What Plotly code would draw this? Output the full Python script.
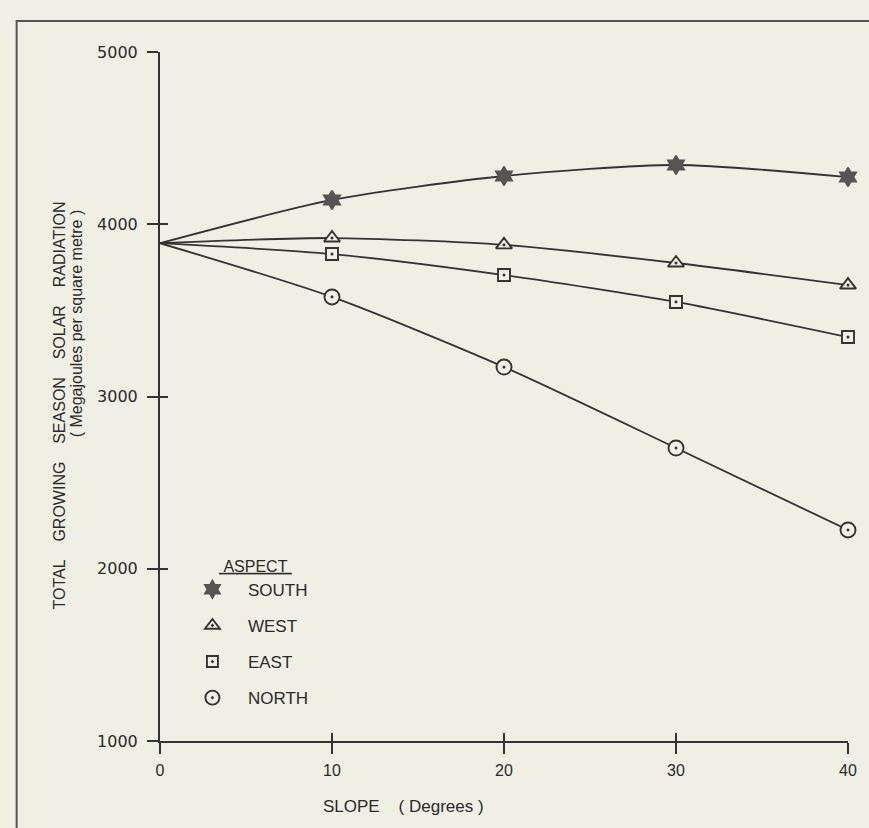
import plotly.graph_objects as go

slope = [0, 10, 20, 30, 40]
south = [3890, 4141, 4280, 4344, 4274]
west = [3890, 3920, 3880, 3775, 3647]
east = [3890, 3827, 3705, 3549, 3345]
north = [3890, 3578, 3171, 2701, 2225]

series = [
    ("SOUTH", south, "hexagram", "#555555"),
    ("WEST", west, "triangle-up-dot", None),
    ("EAST", east, "square-dot", None),
    ("NORTH", north, "circle-dot", None),
]
sizes = {"SOUTH": 14, "WEST": 14, "EAST": 12, "NORTH": 15}

BG = "#f0efe4"
INK = "#333333"
TXT = "#2a2a2a"
NB = "\u00a0"

fig = go.Figure()
for i, (name, vals, sym, fillc) in enumerate(series):
    mcol = fillc if fillc else BG
    mline = dict(color=INK if not fillc else fillc, width=1.9)
    fig.add_trace(go.Scatter(
        x=slope, y=vals, mode="lines", name=name, showlegend=False,
        line=dict(color=INK, width=1.8, shape="spline", smoothing=0.7),
        cliponaxis=False,
    ))
    fig.add_trace(go.Scatter(
        x=slope[1:], y=vals[1:], mode="markers", name=name, showlegend=False,
        marker=dict(symbol=sym, size=sizes[name], color=mcol, line=mline),
        cliponaxis=False,
    ))
    fig.add_trace(go.Scatter(
        x=[None], y=[None], mode="markers", name=name, legendgroup=name,
        marker=dict(symbol=sym, size=sizes[name] - 1, color=mcol, line=mline),
    ))

axis_common = dict(showgrid=False, zeroline=False, showline=True,
                   linecolor=INK, linewidth=2, tickcolor=INK, tickwidth=2)

fig.update_layout(
    width=869, height=828,
    margin=dict(l=160, r=18, t=52, b=87),
    paper_bgcolor=BG, plot_bgcolor=BG,
    font=dict(family="Liberation Sans, Arial, sans-serif", color=TXT),
    xaxis=dict(range=[0, 40], tickvals=[0, 10, 20, 30, 40],
               ticks="outside", ticklen=11, ticklabelstandoff=3,
               tickfont=dict(size=16, family="Liberation Sans, Arial", color=TXT),
               **axis_common),
    yaxis=dict(range=[1000, 5000], tickvals=[1000, 2000, 3000, 4000, 5000],
               ticks="outside", ticklen=11, ticklabelstandoff=6,
               tickfont=dict(size=16, family="DejaVu Sans", color=TXT),
               **axis_common),
    xaxis2=dict(range=[0, 40], tickvals=[0, 10, 20, 30, 40], overlaying="x",
                anchor="y", side="bottom", ticks="inside", ticklen=8,
                showticklabels=False, showgrid=False, zeroline=False,
                showline=False, tickcolor=INK, tickwidth=2),
    yaxis2=dict(range=[1000, 5000], tickvals=[1000, 2000, 3000, 4000, 5000],
                overlaying="y", anchor="x", side="left", ticks="inside",
                ticklen=8, showticklabels=False, showgrid=False,
                zeroline=False, showline=False, tickcolor=INK, tickwidth=2),
    legend=dict(
        x=(177 - 160) / 691, y=(741 - 551) / 689, xanchor="left", yanchor="top",
        bgcolor="rgba(0,0,0,0)", borderwidth=0,
        font=dict(size=17, family="Liberation Sans, Arial", color=TXT),
        title=dict(text=NB * 9 + "<span style='text-decoration:underline'>" + NB + "ASPECT" + NB + "</span>",
                   font=dict(size=16, family="Liberation Sans, Arial", color=TXT), side="top"),
        tracegroupgap=11, itemwidth=61,
    ),
    showlegend=True,
)

fig.add_trace(go.Scatter(x=[None], y=[None], xaxis="x2", yaxis="y2",
                         showlegend=False, hoverinfo="skip"))

gap = NB * 4
fig.add_annotation(
    text=gap.join(["TOTAL", "GROWING", "SEASON", "SOLAR", "RADIATION"]),
    xref="paper", yref="paper", x=(59 - 160) / 691, y=(741 - 405) / 689,
    textangle=-90, showarrow=False, xanchor="center", yanchor="middle",
    font=dict(size=16, family="Liberation Sans, Arial", color=TXT),
)
fig.add_annotation(
    text="(" + NB + "Megajoules per square metre" + NB + ")",
    xref="paper", yref="paper", x=(76 - 160) / 691, y=(741 - 323) / 689,
    textangle=-90, showarrow=False, xanchor="center", yanchor="middle",
    font=dict(size=16, family="Liberation Sans, Arial", color=TXT),
)
fig.add_annotation(
    text="SLOPE" + NB * 4 + "(" + NB + "Degrees" + NB + ")",
    xref="paper", yref="paper", x=(322 - 160) / 691, y=(741 - 806) / 689,
    showarrow=False, xanchor="left", yanchor="middle",
    font=dict(size=17, family="Liberation Sans, Arial", color=TXT),
)

fig.add_shape(type="rect", xref="paper", yref="paper",
              x0=(16 - 160) / 691, x1=1.2, y0=-0.3, y1=(741 - 21) / 689,
              line=dict(color="#555555", width=2), layer="below")

fig.write_html("out.html", config={"displayModeBar": False},
               post_script="document.body.style.margin='0';document.body.style.overflow='hidden';")
